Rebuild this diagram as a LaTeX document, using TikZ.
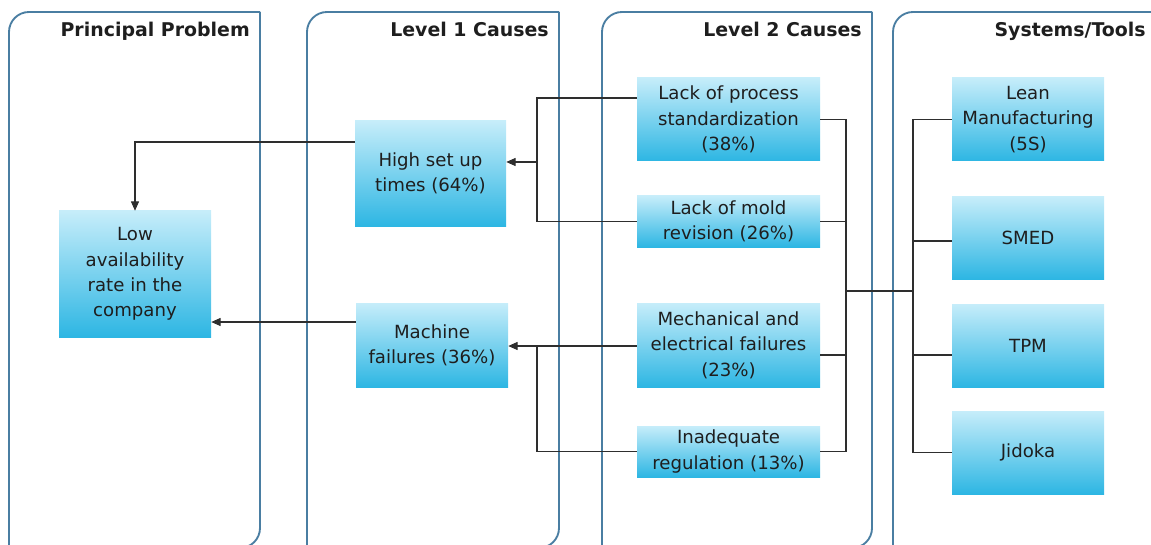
\documentclass[tikz,border=0pt]{standalone}
\usepackage{fontspec}
\setmainfont{DejaVu Sans}
\usetikzlibrary{arrows.meta}
\definecolor{panelc}{HTML}{4A7EA2}
\definecolor{boxtop}{HTML}{C6EDFA}
\definecolor{boxbot}{HTML}{2DB6E3}
\definecolor{linec}{HTML}{2E2E2E}
\definecolor{textc}{HTML}{1E1E1E}
\tikzset{
  panel/.style={draw=panelc, line width=1.4pt, rounded corners=15pt},
  hdr/.style={anchor=base east, font=\bfseries\fontsize{14.2}{17}\selectfont, text=textc, inner sep=0pt},
  box/.style={inner sep=0pt, align=center, top color=boxtop, bottom color=boxbot, draw=none,
              text=textc, font=\fontsize{13.6}{19}\selectfont},
  conn/.style={draw=linec, line width=0.8pt},
  arr/.style={conn, -{Triangle[length=7pt,width=6pt]}},
}
\begin{document}
\begin{tikzpicture}[x=0.75pt,y=-0.75pt]
\useasboundingbox (0,0) rectangle (1151,545);
% panels
\draw[panel] (9,548) -- (9,12) -- (260,12);
\draw[panel] (260,12) -- (260,548) -- (9,548);
\draw[panel] (307,548) -- (307,12) -- (559,12);
\draw[panel] (559,12) -- (559,548) -- (307,548);
\draw[panel] (602,548) -- (602,12) -- (872,12);
\draw[panel] (872,12) -- (872,548) -- (602,548);
\draw[panel] (893,548) -- (893,12) -- (1175,12);
% headers
\node[hdr] (h1) at (250,37) {Principal Problem};
\node[hdr] (h2) at (549,37) {Level 1 Causes};
\node[hdr] (h3) at (862,37) {Level 2 Causes};
\node[hdr] (h4) at (1146,37) {Systems/Tools};
% boxes
\node[box, minimum width=114pt, minimum height=94.5pt] (low) at (135,274) {Low\\availability\\rate in the\\company};
\node[box, minimum width=113.25pt, minimum height=78.75pt] (high) at (430.5,173.5) {High set up\\times (64\%)};
\node[box, minimum width=114pt, minimum height=63pt] (mach) at (432,345) {Machine\\failures (36\%)};
\node[box, minimum width=137.25pt, minimum height=62.25pt] (lp) at (728.5,119.5) {Lack of process\\standardization\\(38\%)};
\node[box, minimum width=137.25pt, minimum height=38.25pt] (lm) at (728.5,221.5) {Lack of mold\\revision (26\%)};
\node[box, minimum width=137.25pt, minimum height=63pt] (me) at (728.5,345) {Mechanical and\\electrical failures\\(23\%)};
\node[box, minimum width=137.25pt, minimum height=38.25pt] (ir) at (728.5,451.5) {Inadequate\\regulation (13\%)};
\node[box, minimum width=114pt, minimum height=62.25pt] (lean) at (1028,119.5) {Lean\\Manufacturing\\(5S)};
\node[box, minimum width=114pt, minimum height=61.5pt] (smed) at (1028,238) {SMED};
\node[box, minimum width=114pt, minimum height=62.25pt] (tpm) at (1028,345.5) {TPM};
\node[box, minimum width=114pt, minimum height=62.25pt] (jid) at (1028,452.5) {Jidoka};
% junction coordinates
\coordinate (jl1) at (537,98);
\coordinate (jl2) at (537,162);
\coordinate (jl3) at (537,346);
\coordinate (jr) at (846,291);
\coordinate (jt) at (913,291);
% level 1 -> problem
\draw[arr] (high.west |- 0,142) -| (low.north);
\draw[arr] (mach.west |- 0,322) -- (low.east |- 0,322);
% level 2 -> level 1
\draw[conn] (lp.west |- jl1) -- (jl1) |- (lm.west);
\draw[arr] (jl2) -- (high.east |- jl2);
\draw[arr] (me.west |- jl3) -- (mach.east |- jl3);
\draw[conn] (ir.west) -| (jl3);
% level 2 -> tools
\draw[conn] (lp.east) -| (jr);
\draw[conn] (lm.east) -| (jr);
\draw[conn] (me.east |- 0,355) -| (jr);
\draw[conn] (ir.east) -| (jr);
\draw[conn] (jr) -- (jt);
\draw[conn] (lean.west) -| (jt);
\draw[conn] (smed.west |- 0,241) -| (jt);
\draw[conn] (tpm.west |- 0,355) -| (jt);
\draw[conn] (jid.west) -| (jt);
\end{tikzpicture}
\end{document}
